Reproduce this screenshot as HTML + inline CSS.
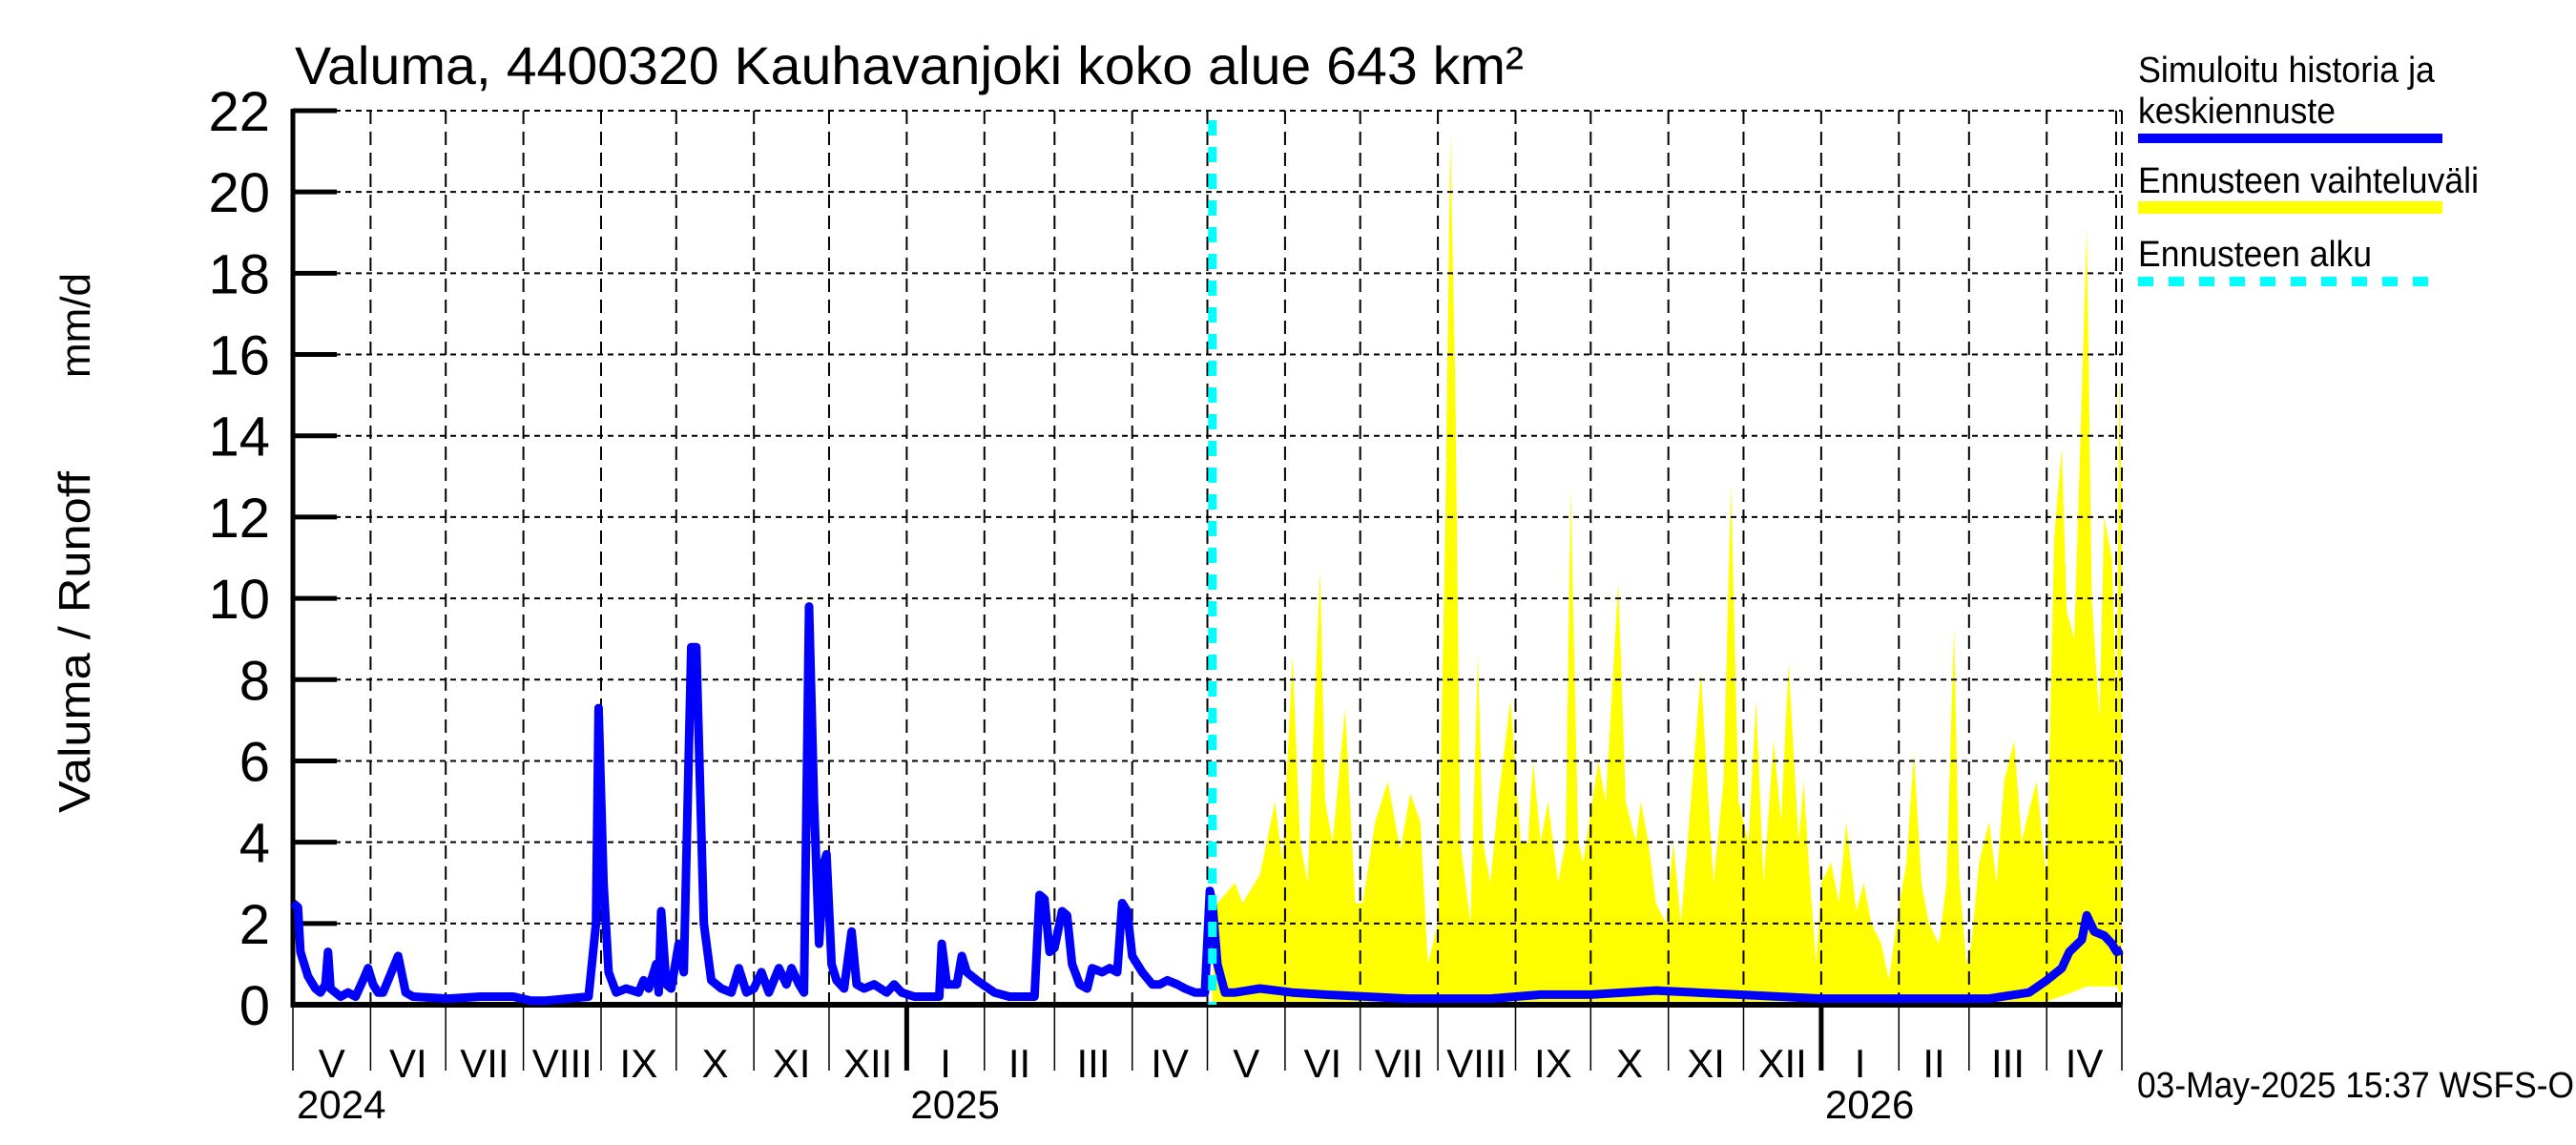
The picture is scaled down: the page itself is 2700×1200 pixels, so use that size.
<!DOCTYPE html>
<html><head><meta charset="utf-8"><style>
html,body{margin:0;padding:0;background:#fff;}
svg{display:block;}
text{font-family:"Liberation Sans Narrow","Liberation Sans",sans-serif;fill:#000;}
</style></head><body>
<svg id="chart" width="2700" height="1200" viewBox="0 0 2700 1200" xmlns="http://www.w3.org/2000/svg">
<text x="309" y="88" font-size="56" textLength="1288" lengthAdjust="spacingAndGlyphs">Valuma, 4400320 Kauhavanjoki koko alue 643 km²</text>
<g font-size="46">
<text transform="translate(94,852) rotate(-90)" font-family="Liberation Sans, sans-serif" textLength="358" lengthAdjust="spacingAndGlyphs">Valuma / Runoff</text>
<text transform="translate(94,396) rotate(-90)" font-family="Liberation Sans, sans-serif" font-size="44">mm/d</text>
</g>
<g id="plot"></g>
<g font-size="38">
<text x="2241" y="86" textLength="311" lengthAdjust="spacingAndGlyphs">Simuloitu historia ja</text>
<text x="2241" y="129" textLength="207" lengthAdjust="spacingAndGlyphs">keskiennuste</text>
<rect x="2241" y="140" width="319" height="10" fill="#0000ff"/>
<text x="2241" y="202" textLength="357" lengthAdjust="spacingAndGlyphs">Ennusteen vaihteluväli</text>
<rect x="2241" y="211" width="319" height="13" fill="#ffff00"/>
<text x="2241" y="279" textLength="245" lengthAdjust="spacingAndGlyphs">Ennusteen alku</text>
<line x1="2241" y1="295" x2="2560" y2="295" stroke="#00ffff" stroke-width="10" stroke-dasharray="16,16"/>
</g>
<text x="2240" y="1150" font-size="38" textLength="458" lengthAdjust="spacingAndGlyphs">03-May-2025 15:37 WSFS-O</text>
</svg>
<script>
const histDays=[0,2,3,6,9,11,13,14,15,19,22,25,28,30,32,34,36,42,45,48,62,75,88,95,101,118,121,122,124,126,129,133,138,140,142,145,146,147,149,151,154,156,159,161,164,167,171,175,178,181,184,187,190,194,197,199,202,204,206,208,210,212,213,215,217,220,223,225,228,232,237,240,243,248,255,258,259,261,265,267,269,273,280,286,296,298,300,302,304,307,309,311,314,317,319,323,326,329,331,333,335,339,343,346,349,353,356,360,364,366,367,369,372,376,386,399,412,445,478,498,518,544,577,610,677,693,700,706,709,714,716,719,723,726,728,730];
const histVals=[2.5,2.4,1.3,0.7,0.4,0.3,0.5,1.3,0.4,0.2,0.3,0.2,0.6,0.9,0.5,0.3,0.3,1.2,0.3,0.2,0.15,0.2,0.2,0.1,0.1,0.2,2,7.3,3,0.8,0.3,0.4,0.3,0.6,0.4,1,0.3,2.3,0.5,0.4,1.5,0.8,8.8,8.8,2,0.6,0.4,0.3,0.9,0.3,0.4,0.8,0.3,0.9,0.5,0.9,0.5,0.3,9.8,5,1.5,3.5,3.7,1,0.6,0.4,1.8,0.5,0.4,0.5,0.3,0.5,0.3,0.2,0.2,0.2,1.5,0.5,0.5,1.2,0.8,0.6,0.3,0.2,0.2,2.7,2.6,1.3,1.4,2.3,2.2,1,0.5,0.4,0.9,0.8,0.9,0.8,2.5,2.3,1.2,0.8,0.5,0.5,0.6,0.5,0.4,0.3,0.3,2.8,2.5,1,0.3,0.3,0.4,0.3,0.25,0.15,0.15,0.25,0.25,0.35,0.25,0.15,0.15,0.3,0.6,0.9,1.3,1.6,2.2,1.8,1.7,1.5,1.3,1.35];
const bandDays=[367,369,376,379,386,392,395,399,402,405,410,412,415,420,424,427,432,437,442,446,450,453,457,460,462,464,466,470,473,475,478,481,486,490,493,495,498,501,505,508,510,513,515,521,524,529,532,536,538,541,544,548,551,554,558,562,565,567,571,574,577,581,584,587,591,594,597,601,603,605,608,610,614,617,620,624,627,630,634,637,640,644,647,650,653,657,660,663,665,668,670,673,677,680,683,687,690,693,696,700,703,706,708,711,714,716,718,721,723,726,728,729,730];
const bandUpper=[0.5,2.5,3,2.5,3.2,5,3.5,8.6,4,3,10.7,5,4,7.3,2.5,2.5,4.5,5.5,3.8,5.2,4.5,1,2,12,21.4,15,4,2,8.6,4,3,5,7.5,4,4,6,4,5,3,4,12.7,4,3.5,6,5,10.4,5,4,5,4,2.5,2,4,2,5,8.2,5,3,5.5,12.8,5,4,7.5,3,6.5,4.5,8.4,4,5.5,3.5,1,3,3.5,2.5,4.5,2.3,3,2,1.5,0.6,2,3.5,6.2,3,2,1.5,3,9.3,3.2,1,1.5,3.5,4.5,3,5.5,6.5,4,4.8,5.5,3,11.5,13.7,9.7,9,15,19.1,10,7,12,11,7,15.6,12];
const lowDays=[367,700,710,716,728,730];
const lowVals=[0.08,0.08,0.3,0.45,0.45,0.2];
const yTicks=[0,2,4,6,8,10,12,14,16,18,20,22];
const monthStarts=[0,31,61,92,123,153,184,214,245,276,304,335,365,396,426,457,488,518,549,579,610,641,669,700,730];
const monthLabels=["V","VI","VII","VIII","IX","X","XI","XII","I","II","III","IV","V","VI","VII","VIII","IX","X","XI","XII","I","II","III","IV"];
const yearDays=[0,245,610];
const yearLabels=["2024","2025","2026"];
const forecastStart=367;

const L=307,R=2224,T=116,B=1053,DMAX=730,VMAX=22;
function xs(d){return L+d*(R-L)/DMAX;}
function ys(v){return B-v*(B-T)/VMAX;}
const NS="http://www.w3.org/2000/svg";
const plot=document.getElementById('plot');
function mk(tag,attrs,parent){const e=document.createElementNS(NS,tag);for(const k in attrs)e.setAttribute(k,attrs[k]);(parent||plot).appendChild(e);return e;}

let pts=[];
for(let i=0;i<bandDays.length;i++)pts.push(xs(bandDays[i]).toFixed(1)+","+ys(bandUpper[i]).toFixed(1));
for(let i=lowDays.length-1;i>=0;i--)pts.push(xs(lowDays[i]).toFixed(1)+","+ys(lowVals[i]).toFixed(1));
const band=mk('polygon',{points:pts.join(' '),fill:'#ffff00'});



const grid=mk('g',{stroke:'#000','stroke-width':2,fill:'none'});


yTicks.forEach(v=>{ if(v>0) mk('line',{x1:L,x2:R,y1:ys(v),y2:ys(v),'stroke-dasharray':'6,5'},grid); });
monthStarts.forEach(d=>{ if(d>0) mk('line',{x1:xs(d),x2:xs(d),y1:T,y2:B,'stroke-dasharray':'14,8'},grid); });
mk('line',{x1:R-6,x2:R-6,y1:T,y2:B,'stroke-dasharray':'14,8'},grid);

const yax=mk('g',{});


mk('line',{x1:L,x2:L,y1:T-2,y2:B+3,stroke:'#000','stroke-width':5},yax);
yTicks.forEach(v=>{
  mk('line',{x1:L,x2:L+46,y1:ys(v),y2:ys(v),stroke:'#000','stroke-width':5},yax);
  const t=mk('text',{x:283,y:ys(v)+21,'text-anchor':'end','font-size':58},yax);
  t.textContent=v;
});

const xax=mk('g',{});


mk('line',{x1:L,x2:R,y1:B,y2:B,stroke:'#000','stroke-width':6},xax);
monthStarts.forEach(d=>{
  const yr=yearDays.indexOf(d)>=0&&d>0;
  mk('line',{x1:xs(d),x2:xs(d),y1:B,y2:1122,stroke:'#000','stroke-width':yr?5:1.5},xax);
});
monthLabels.forEach((m,i)=>{
  const t=mk('text',{x:(xs(monthStarts[i])+xs(monthStarts[i+1]))/2,y:1129,'text-anchor':'middle','font-size':42},xax);
  t.textContent=m;
});
yearLabels.forEach((y,i)=>{
  const t=mk('text',{x:xs(yearDays[i])+4,y:1172,'font-size':42},xax);
  t.textContent=y;
});

let lp=histDays.map((d,i)=>xs(d).toFixed(1)+","+ys(histVals[i]).toFixed(1)).join(' ');
const line=mk('polyline',{points:lp,fill:'none',stroke:'#0000ff','stroke-width':9,'stroke-linejoin':'round'});



const fs=mk('line',{x1:xs(forecastStart),x2:xs(forecastStart),y1:T+10,y2:B,stroke:'#00ffff','stroke-width':9,'stroke-dasharray':'16,12'});


</script>
</body></html>
